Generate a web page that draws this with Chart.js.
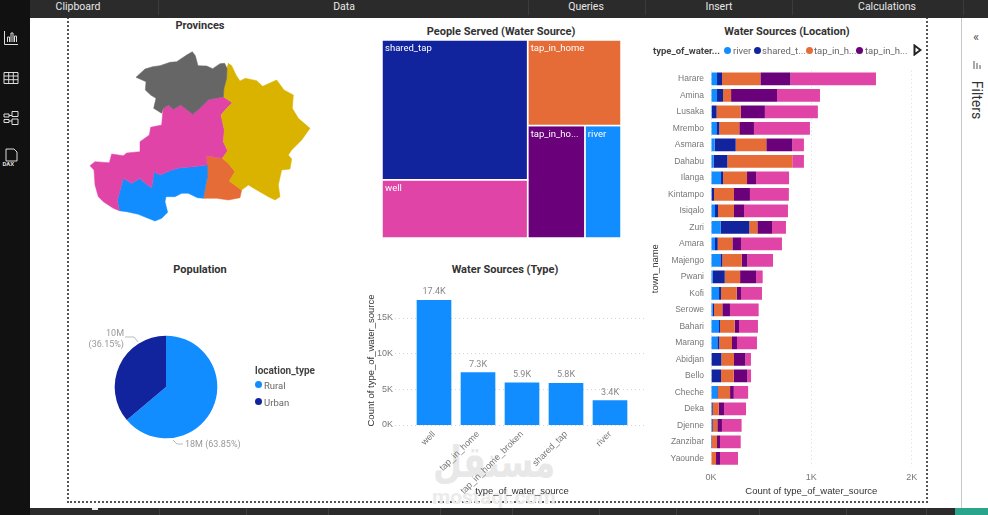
<!DOCTYPE html>
<html>
<head>
<meta charset="utf-8">
<title>Water sources report</title>
<script src="https://cdn.jsdelivr.net/npm/chart.js@4"></script>
<style>
  html, body { margin: 0; padding: 0; background: #fff; overflow: hidden; }
  body { width: 988px; height: 515px; position: relative; font-family: Roboto, sans-serif; color: #252423; }
  .abs { position: absolute; white-space: nowrap; }
  canvas { position: absolute; }
  #ribbon { position: absolute; left: 0; top: 0; width: 988px; height: 18px; background: #2b2b2b; border-bottom-left-radius: 6px; }
  .rib { position: absolute; top: 0; line-height: 13px; font-size: 10.5px; color: #e8e8e8; transform: translateX(-50%); }
  .sep { position: absolute; top: 0; width: 1px; height: 15px; background: #3c3c3c; }
  #rail { position: absolute; left: 0; top: 0; width: 30px; height: 515px; background: #111; }
  #footer { position: absolute; left: 30px; top: 508px; width: 958px; height: 7px; background: #2b2b2b; }
  #footer i { position: absolute; top: 0; width: 1px; height: 7px; background: #3f3f3f; }
  #frame { position: absolute; left: 67px; top: 10px; width: 857px; height: 489px; border: 2px dotted #555; }
  #pane { position: absolute; left: 961px; top: 18px; width: 1px; height: 490px; background: #c8c8c8; }
  .title { position: absolute; font-size: 11px; font-weight: 700; transform: translate(-50%, -50%); white-space: nowrap; color: #333; }
  .dot { position: absolute; width: 7px; height: 7px; border-radius: 50%; }
  .leg { position: absolute; font-size: 9.5px; color: #666; transform: translateY(-50%); white-space: nowrap; }
  svg { position: absolute; }
</style>
</head>
<body>
<div id="frame"></div>
<div id="ribbon">
  <span class="rib" style="left:78px">Clipboard</span>
  <span class="rib" style="left:344px">Data</span>
  <span class="rib" style="left:586px">Queries</span>
  <span class="rib" style="left:719px">Insert</span>
  <span class="rib" style="left:887px">Calculations</span>
  <span class="sep" style="left:158px"></span>
  <span class="sep" style="left:528px"></span>
  <span class="sep" style="left:645px"></span>
  <span class="sep" style="left:792px"></span>
  <span class="sep" style="left:963px"></span>
</div>
<div id="rail">
  <svg style="left:3px;top:30px" width="16" height="16" fill="none" stroke="#ddd"><path d="M1.5 1v13.5H15M4.5 12V7h2v5M8 12V3h2v9M11.5 12V6h2v6"/></svg>
  <svg style="left:3px;top:70px" width="16" height="16" fill="none" stroke="#ddd"><path d="M1 2.5h14v11H1zM1 6h14M1 9.7h14M5.7 2.5v11M10.3 2.5v11"/></svg>
  <svg style="left:3px;top:110px" width="16" height="16" fill="none" stroke="#ddd"><path d="M1 4h5v3H1zM1 9.5h5v3H1zM9 1.5h6v5H9zM9 9h6v5.5H9zM6 5.5h3M6 11h3"/></svg>
  <svg style="left:2px;top:148px" width="18" height="20" fill="none" stroke="#ddd"><path d="M4 1h8l3 3v9H4z"/><text x="0.5" y="18" font-size="6" fill="#ddd" stroke="none" font-weight="700">DAX</text></svg>
</div>
<div id="pane"></div>
<span class="abs" style="left:973px;top:29px;font-size:13px;color:#555">«</span>
<svg style="left:972px;top:60px" width="10" height="10" stroke="#555"><path d="M2 1v8M5 3v6M8 5v4"/></svg>
<span class="abs" style="left:977px;top:100px;font-size:14px;color:#333;transform:translate(-50%,-50%) rotate(90deg)">Filters</span>
<div id="footer">
  <i style="left:129px"></i><i style="left:216px"></i><i style="left:298px"></i><i style="left:410px"></i><i style="left:482px"></i><i style="left:569px"></i><i style="left:646px"></i><i style="left:729px"></i><i style="left:816px"></i><i style="left:896px"></i>
  <span style="position:absolute;left:62px;top:0;width:6px;height:2px;background:#eee"></span>
  <span style="position:absolute;left:925px;top:0;width:33px;height:7px;background:#2aa58c"></span>
</div>

<div class="title" style="left:200px;top:25px">Provinces</div>
<div class="title" style="left:501px;top:31px">People Served (Water Source)</div>
<div class="title" style="left:787px;top:31px">Water Sources (Location)</div>
<div class="title" style="left:200px;top:269px">Population</div>
<div class="title" style="left:505px;top:269px">Water Sources (Type)</div>

<span class="abs" style="left:433px;top:438px;font-family:'DejaVu Sans';font-size:44px;font-weight:700;color:#e8e8e8;direction:rtl;line-height:48px;transform:scaleX(0.76);transform-origin:left center">مستقل</span>
<span class="abs" style="left:432px;top:487px;font-size:21px;font-weight:700;color:#ebebeb;line-height:20px">mostaql.com</span>

<canvas id="provinces" width="280" height="230" style="left:60px;top:15px"></canvas>
<canvas id="people" width="239" height="198" style="left:382px;top:40px"></canvas>
<canvas id="population" width="200" height="200" style="left:66px;top:287px"></canvas>
<canvas id="types" width="285" height="213" style="left:364px;top:285px"></canvas>
<canvas id="towns" width="275" height="480" style="left:650px;top:20px"></canvas>

<span class="abs" style="left:255px;top:365px;font-size:10px;font-weight:700;color:#444">location_type</span>
<span class="dot" style="left:255px;top:381px;background:#118DFF"></span><span class="leg" style="left:264px;top:385px">Rural</span>
<span class="dot" style="left:255px;top:398px;background:#12239E"></span><span class="leg" style="left:264px;top:402px">Urban</span>

<span class="leg" style="left:653px;top:50px;font-weight:700;color:#444">type_of_water...</span>
<span class="dot" style="left:724px;top:47px;background:#118DFF"></span><span class="leg" style="left:733px;top:50px">river</span>
<span class="dot" style="left:754px;top:47px;background:#12239E"></span><span class="leg" style="left:762px;top:50px">shared_t...</span>
<span class="dot" style="left:806px;top:47px;background:#E66C37"></span><span class="leg" style="left:814px;top:50px">tap_in_h...</span>
<span class="dot" style="left:856px;top:47px;background:#6B007B"></span><span class="leg" style="left:865px;top:50px">tap_in_h...</span>
<svg style="left:913px;top:44px" width="9" height="12"><path d="M1.5 1.5L7.5 6L1.5 10.5Z" fill="none" stroke="#222" stroke-width="2"/></svg>

<script>
const BLUE = "#118DFF";
const NAVY = "#12239E";
const ORANGE = "#E66C37";
const PURPLE = "#6B007B";
const PINK = "#E044A7";
const GOLD = "#D9B300";
const GREY = "#666666";
const tickColor = "#777";
const titleColor = "#333";

// province boundaries, vertices in map units
const provinceColors = [GREY, GOLD, PINK, BLUE, ORANGE];
const northProvince = [[228,187],[255,162],[278,155],[300,152],[330,142],[350,140],[380,120],[397,110],[406,122],[414,152],[440,153],[458,161],[480,146],[494,145],[501,160],[500,190],[492,220],[490,245],[445,254],[420,280],[398,298],[375,280],[362,270],[340,283],[325,270],[310,280],[305,295],[281,280],[288,250],[272,240],[256,225],[258,200]];
const eastProvince = [[505,145],[515,152],[528,180],[540,198],[556,190],[590,197],[608,214],[650,195],[672,225],[700,240],[697,280],[715,310],[750,340],[725,375],[695,405],[685,420],[695,432],[690,462],[665,465],[655,510],[660,545],[645,555],[625,545],[590,525],[565,510],[545,525],[508,498],[525,470],[505,445],[487,430],[503,408],[490,380],[493,345],[483,300],[500,280],[517,263],[490,245],[492,220],[500,190],[501,160]];
const centralProvince = [[490,245],[517,263],[500,280],[483,300],[493,345],[490,380],[503,408],[487,430],[440,422],[441,450],[400,455],[360,458],[335,465],[300,480],[282,470],[275,518],[250,500],[240,490],[215,505],[190,490],[175,545],[172,555],[178,587],[160,580],[130,560],[115,545],[105,510],[102,465],[90,452],[105,440],[148,443],[155,417],[190,422],[200,414],[240,410],[240,380],[268,360],[272,337],[305,330],[308,295],[310,280],[325,270],[340,283],[362,270],[375,280],[398,298],[420,280],[445,254]];
const southProvince = [[190,490],[215,505],[240,490],[250,500],[275,518],[282,470],[300,480],[335,465],[360,458],[400,455],[441,450],[441,490],[430,550],[412,548],[385,535],[365,535],[345,545],[318,545],[315,560],[323,592],[305,610],[285,618],[260,608],[235,598],[200,590],[178,587],[172,555],[175,545]];
const southEastProvince = [[440,422],[487,430],[505,445],[525,470],[508,498],[545,525],[540,548],[505,555],[470,550],[430,550],[441,490],[441,450]];
const provinceShapes = [northProvince, eastProvince, centralProvince, southProvince, southEastProvince];

// people served per source, millions
const peopleShared = 12.0;
const peopleWell = 5.0;
const peopleTapHome = 4.7;
const peopleBroken = 3.8;
const peopleRiver = 2.4;

const locationTypes = ["Rural", "Urban"];
const locationShares = [63.85, 36.15];
const locationMillions = ["18M", "10M"];

const sourceTypes = ["well", "tap_in_home", "tap_in_home_broken", "shared_tap", "river"];
const sourceCounts = [17400, 7300, 5900, 5800, 3400];
const countTicks = [0, 5000, 10000, 15000];

const townNames = ["Harare","Amina","Lusaka","Mrembo","Asmara","Dahabu","Ilanga","Kintampo","Isiqalo","Zuri","Amara","Majengo","Pwani","Kofi","Serowe","Bahari","Marang","Abidjan","Bello","Cheche","Deka","Djenne","Zanzibar","Yaounde"];
const townRiver =    [60,60,10,53,37,27,100,7,40,96,40,93,17,80,17,80,63,7,7,63,7,7,0,0];
const townShared =   [50,60,46,30,209,136,20,23,30,286,27,20,120,20,13,10,20,96,93,7,10,10,10,0];
const townTapHome =  [382,80,239,199,305,647,239,199,159,80,146,193,153,156,83,146,126,126,126,120,60,46,50,50];
const townBroken =   [299,458,242,146,259,0,90,159,100,146,86,56,159,43,76,43,50,113,136,37,53,46,30,40];
const townWell =     [853,428,528,558,116,116,329,388,438,139,408,256,66,209,286,189,199,56,37,143,219,196,206,179];

const common = { responsive: false, animation: false, events: [] };
const hidden = { legend: { display: false }, tooltip: { enabled: false } };
// tick padding would otherwise leak into the plot area's top inset
const pinWidth = w => scale => { scale.width = w; scale.paddingTop = 0; scale.paddingBottom = 0; };
const pinHeight = h => scale => { scale.height = h; };

// filled polygons on a scatter chart
function polygonDataset(points, color, border, borderWidth) {
  return {
    data: points.map(p => ({ x: p[0], y: p[1] })).concat([{ x: points[0][0], y: points[0][1] }]),
    showLine: true,
    fill: "shape",
    tension: 0,
    pointRadius: 0,
    backgroundColor: color,
    borderColor: border,
    borderWidth: borderWidth,
    clip: false
  };
}

new Chart(document.getElementById("provinces"), {
  type: "scatter",
  data: {
    datasets: provinceShapes.map((shape, i) => polygonDataset(shape, provinceColors[i], provinceColors[i], 0.5))
  },
  options: {
    ...common,
    plugins: hidden,
    scales: {
      x: { display: false, min: 0, max: 840 },
      y: { display: false, min: 0, max: 690, reverse: true }
    }
  }
});

// treemap: two columns split by value, each sliced again by value
const leftTotal = peopleShared + peopleWell;
const rightTotal = peopleTapHome + peopleBroken + peopleRiver;
const splitX = leftTotal / (leftTotal + rightTotal);
const splitLeftY = peopleShared / leftTotal;
const splitRightY = peopleTapHome / rightTotal;
const splitLowX = splitX + (1 - splitX) * peopleBroken / (peopleBroken + peopleRiver);
const cells = [
  { name: "shared_tap", color: NAVY, box: [0, 0, splitX, splitLeftY] },
  { name: "well", color: PINK, box: [0, splitLeftY, splitX, 1] },
  { name: "tap_in_home", color: ORANGE, box: [splitX, 0, 1, splitRightY] },
  { name: "tap_in_ho...", color: PURPLE, box: [splitX, splitRightY, splitLowX, 1] },
  { name: "river", color: BLUE, box: [splitLowX, splitRightY, 1, 1] }
];

new Chart(document.getElementById("people"), {
  type: "scatter",
  data: {
    datasets: cells.map(c => {
      const [x0, y0, x1, y1] = c.box;
      return polygonDataset([[x0, y0], [x1, y0], [x1, y1], [x0, y1]], c.color, "#fff", 1.5);
    })
  },
  options: {
    ...common,
    plugins: hidden,
    scales: {
      x: { display: false, min: 0, max: 1 },
      y: { display: false, min: 0, max: 1, reverse: true }
    }
  },
  plugins: [{
    id: "cellLabels",
    afterDatasetsDraw(chart) {
      const { ctx, scales } = chart;
      ctx.save();
      ctx.fillStyle = "#fff";
      ctx.font = "9.5px Roboto";
      ctx.textBaseline = "middle";
      cells.forEach(c => {
        ctx.fillText(c.name, scales.x.getPixelForValue(c.box[0]) + 3, scales.y.getPixelForValue(c.box[1]) + 9);
      });
      ctx.restore();
    }
  }]
});

new Chart(document.getElementById("population"), {
  type: "pie",
  data: {
    labels: locationTypes,
    datasets: [{ data: locationShares, backgroundColor: [BLUE, NAVY], borderWidth: 0 }]
  },
  options: {
    ...common,
    layout: { padding: 48.7 },
    plugins: hidden
  },
  plugins: [{
    id: "pieCallouts",
    afterDraw(chart) {
      const { ctx } = chart;
      ctx.save();
      ctx.font = "9px Roboto";
      ctx.fillStyle = "#999";
      ctx.strokeStyle = "#aaa";
      ctx.lineWidth = 0.8;
      ctx.textBaseline = "middle";
      ctx.beginPath();
      ctx.moveTo(107, 153);
      ctx.lineTo(111, 157);
      ctx.lineTo(117, 157);
      ctx.moveTo(59, 50);
      ctx.lineTo(68, 50);
      ctx.lineTo(72, 55);
      ctx.stroke();
      ctx.fillText(`${locationMillions[0]} (${locationShares[0]}%)`, 119, 158);
      ctx.textAlign = "right";
      ctx.fillText(locationMillions[1], 58, 47);
      ctx.fillText(`(${locationShares[1]}%)`, 58, 58);
      ctx.restore();
    }
  }]
});

new Chart(document.getElementById("types"), {
  type: "bar",
  data: {
    labels: sourceTypes,
    datasets: [{ data: sourceCounts, backgroundColor: BLUE, barThickness: 34 }]
  },
  options: {
    ...common,
    layout: { padding: { top: 11, right: 17, bottom: 1 } },
    plugins: hidden,
    scales: {
      x: {
        grid: { display: false, drawTicks: false },
        border: { display: false },
        afterFit: pinHeight(72),
        ticks: { color: tickColor, font: { size: 9 }, minRotation: 45, maxRotation: 45, autoSkip: false, padding: 4 },
        title: { display: true, text: "type_of_water_source", color: titleColor, font: { size: 9.5 }, padding: 0 }
      },
      y: {
        min: 0,
        max: 18000,
        grid: { display: false, drawTicks: false },
        border: { display: false },
        afterFit: pinWidth(48),
        afterBuildTicks: scale => { scale.ticks = countTicks.map(value => ({ value })); },
        ticks: { color: tickColor, font: { size: 9 }, padding: 19, callback: v => `${v / 1000}K` },
        title: { display: true, text: "Count of type_of_water_source", color: titleColor, font: { size: 9.5 }, padding: { top: 2, bottom: 0 } }
      }
    }
  },
  plugins: [{
    id: "gridAndValues",
    beforeDatasetsDraw(chart) {
      const { ctx, scales } = chart;
      ctx.save();
      ctx.strokeStyle = "#d5d5d5";
      ctx.setLineDash([1, 3]);
      scales.y.ticks.forEach(t => {
        const y = Math.round(scales.y.getPixelForValue(t.value)) + 0.5;
        ctx.beginPath();
        ctx.moveTo(31, y);
        ctx.lineTo(282, y);
        ctx.stroke();
      });
      ctx.restore();
    },
    afterDatasetsDraw(chart) {
      const { ctx } = chart;
      ctx.save();
      ctx.font = "9px Roboto";
      ctx.fillStyle = "#888";
      ctx.textAlign = "center";
      chart.getDatasetMeta(0).data.forEach((bar, i) => {
        ctx.fillText(`${(sourceCounts[i] / 1000).toFixed(1)}K`, bar.x, bar.y - 6);
      });
      ctx.restore();
    }
  }]
});

const townSeries = [
  ["river", townRiver, BLUE],
  ["shared_tap", townShared, NAVY],
  ["tap_in_home", townTapHome, ORANGE],
  ["tap_in_home_broken", townBroken, PURPLE],
  ["well", townWell, PINK]
];

new Chart(document.getElementById("towns"), {
  type: "bar",
  data: {
    labels: townNames,
    datasets: townSeries.map(s => ({
      label: s[0],
      data: s[1],
      backgroundColor: s[2],
      barPercentage: 0.77,
      categoryPercentage: 1
    }))
  },
  options: {
    ...common,
    indexAxis: "y",
    layout: { padding: { top: 50.7, right: 13.3, bottom: 3 } },
    plugins: hidden,
    scales: {
      x: {
        stacked: true,
        min: 0,
        max: 2000,
        border: { display: false, dash: [1, 3] },
        grid: { color: "#d9d9d9", drawTicks: false },
        afterFit: pinHeight(30.4),
        ticks: { stepSize: 1000, color: tickColor, font: { size: 9 }, padding: 6, maxRotation: 0, callback: v => `${v / 1000}K` },
        title: { display: true, text: "Count of type_of_water_source", color: titleColor, font: { size: 9.5 }, padding: 0 }
      },
      y: {
        stacked: true,
        grid: { display: false, drawTicks: false },
        border: { display: false },
        afterFit: pinWidth(61),
        ticks: { color: tickColor, font: { size: 8.5 }, padding: 7, autoSkip: false },
        title: { display: true, text: "town_name", color: titleColor, font: { size: 9.5 }, padding: 0 }
      }
    }
  }
});
</script>
</body>
</html>
